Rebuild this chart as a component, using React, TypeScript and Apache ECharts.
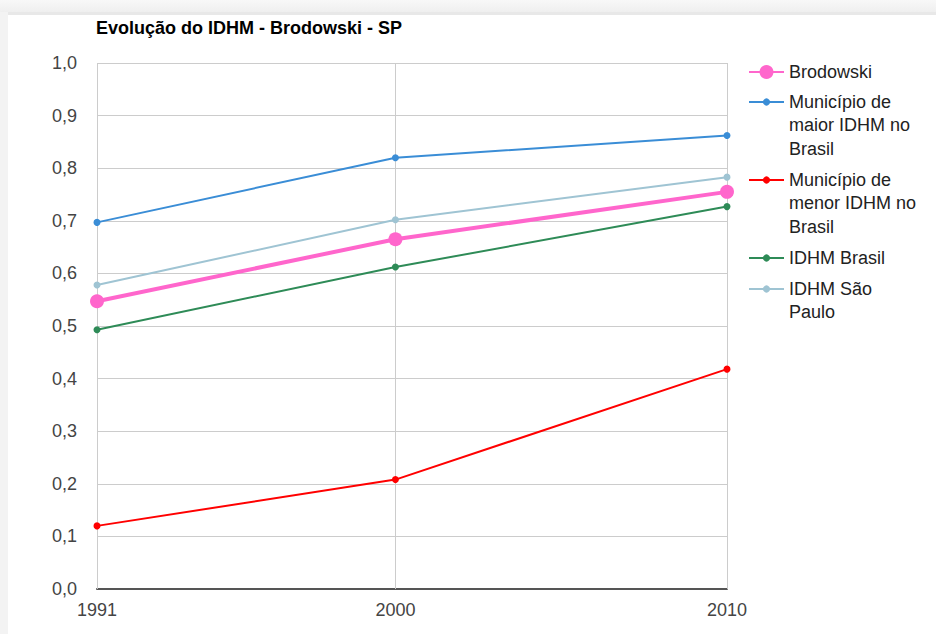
import React, { useEffect, useRef } from "react";
import * as echarts from "echarts";

const title = "Evolução do IDHM - Brodowski - SP";
const years = [1991, 2000, 2010];
const yTicks = [0, 0.1, 0.2, 0.3, 0.4, 0.5, 0.6, 0.7, 0.8, 0.9, 1.0];

const seriesNames = [
  "Brodowski",
  "Município de maior IDHM no Brasil",
  "Município de menor IDHM no Brasil",
  "IDHM Brasil",
  "IDHM São Paulo",
];
const legendLabels = [
  "Brodowski",
  "Município de\nmaior IDHM no\nBrasil",
  "Município de\nmenor IDHM no\nBrasil",
  "IDHM Brasil",
  "IDHM São\nPaulo",
];
const brodowski = [0.547, 0.665, 0.755];
const maior = [0.697, 0.82, 0.862];
const menor = [0.12, 0.208, 0.418];
const brasil = [0.493, 0.612, 0.727];
const saoPaulo = [0.578, 0.702, 0.783];
const seriesValues = [brodowski, maior, menor, brasil, saoPaulo];

const colors = ["#ff66cc", "#3a8dd6", "#ff0000", "#2e8b57", "#9fc4d3"];
const lineWidths = [4, 2, 2, 2, 2];
const symbolSizes = [14, 7, 7, 7, 7];
const legendIconY = [72, 102, 180, 258, 289];

const FONT = 'Arial, "Liberation Sans", sans-serif';
const LH = 23.3;

export default function App() {
  const ref = useRef<HTMLDivElement>(null);
  useEffect(() => {
    document.body.style.margin = "0";
    const chart = echarts.init(ref.current!, null, { renderer: "svg" });
    const series: any[] = seriesNames.map((name, i) => ({
      name,
      type: "line",
      data: years.map((y, j) => [y, seriesValues[i][j]]),
      symbol: "circle",
      symbolSize: symbolSizes[i],
      showSymbol: true,
      lineStyle: { color: colors[i], width: lineWidths[i] },
      itemStyle: { color: colors[i] },
      z: i === 0 ? 4 : 3,
    }));
    series.push({
      name: "__grid",
      type: "line",
      data: [],
      silent: true,
      z: 1,
      markLine: {
        silent: true,
        z: 1,
        symbol: ["none", "none"],
        label: { show: false },
        lineStyle: { color: "#cccccc", width: 1, type: "solid" },
        emphasis: { disabled: true },
        data: years.map((y) => ({ xAxis: y })),
      },
    });
    const legends = seriesNames.map((name, i) => {
      const lines = legendLabels[i].split("\n").length;
      const ih = i === 0 ? 17.5 : 9;
      const boxH = Math.max(ih, (2 * lines - 1) * LH);
      const label = "\n".repeat(lines - 1) + legendLabels[i];
      return {
        data: [name],
        orient: "vertical",
        left: 748,
        top: legendIconY[i] - boxH / 2,
        padding: 0,
        itemGap: 0,
        itemWidth: 35,
        itemHeight: ih,
        selectedMode: false,
        formatter: () => label,
        textStyle: {
          fontSize: 18,
          lineHeight: LH,
          color: "#222",
          fontFamily: FONT,
        },
      };
    });
    chart.setOption({
      animation: false,
      color: colors,
      title: {
        text: title,
        left: 96,
        top: 19,
        padding: 0,
        textStyle: { fontSize: 18, fontWeight: "bold", color: "#000", fontFamily: FONT },
      },
      legend: legends,
      grid: { left: 97, right: 209, top: 63, bottom: 45, containLabel: false },
      xAxis: {
        type: "value",
        min: years[0],
        max: years[years.length - 1],
        axisLine: { show: true, lineStyle: { color: "#555", width: 2 } },
        axisTick: { show: false },
        splitLine: { show: false },
        axisLabel: {
          customValues: years,
          margin: 12,
          fontSize: 18,
          color: "#444",
          fontFamily: FONT,
          formatter: (v: number) => String(v),
        },
      },
      yAxis: {
        type: "value",
        min: yTicks[0],
        max: yTicks[yTicks.length - 1],
        interval: 0.1,
        axisLine: { show: false },
        axisTick: { show: false },
        splitLine: { show: true, lineStyle: { color: "#cccccc", width: 1 } },
        axisLabel: {
          margin: 20,
          fontSize: 18,
          color: "#444",
          fontFamily: FONT,
          formatter: (v: number) => v.toFixed(1).replace(".", ","),
        },
      },
      series,
    });
    return () => chart.dispose();
  }, []);
  return (
    <div style={{ position: "relative", width: 936, height: 634, background: "#f3f3f3", overflow: "hidden" }}>
      <div style={{ position: "absolute", left: 0, top: 0, width: 936, height: 12, background: "linear-gradient(#f8f8f8, #efefef)" }} />
      <div style={{ position: "absolute", left: 8, top: 12, width: 928, height: 3, background: "#e8e8e8" }} />
      <div style={{ position: "absolute", left: 8, top: 15, width: 928, height: 619, background: "#ffffff" }} />
      <div ref={ref} style={{ position: "absolute", left: 0, top: 0, width: 936, height: 634 }} />
    </div>
  );
}
